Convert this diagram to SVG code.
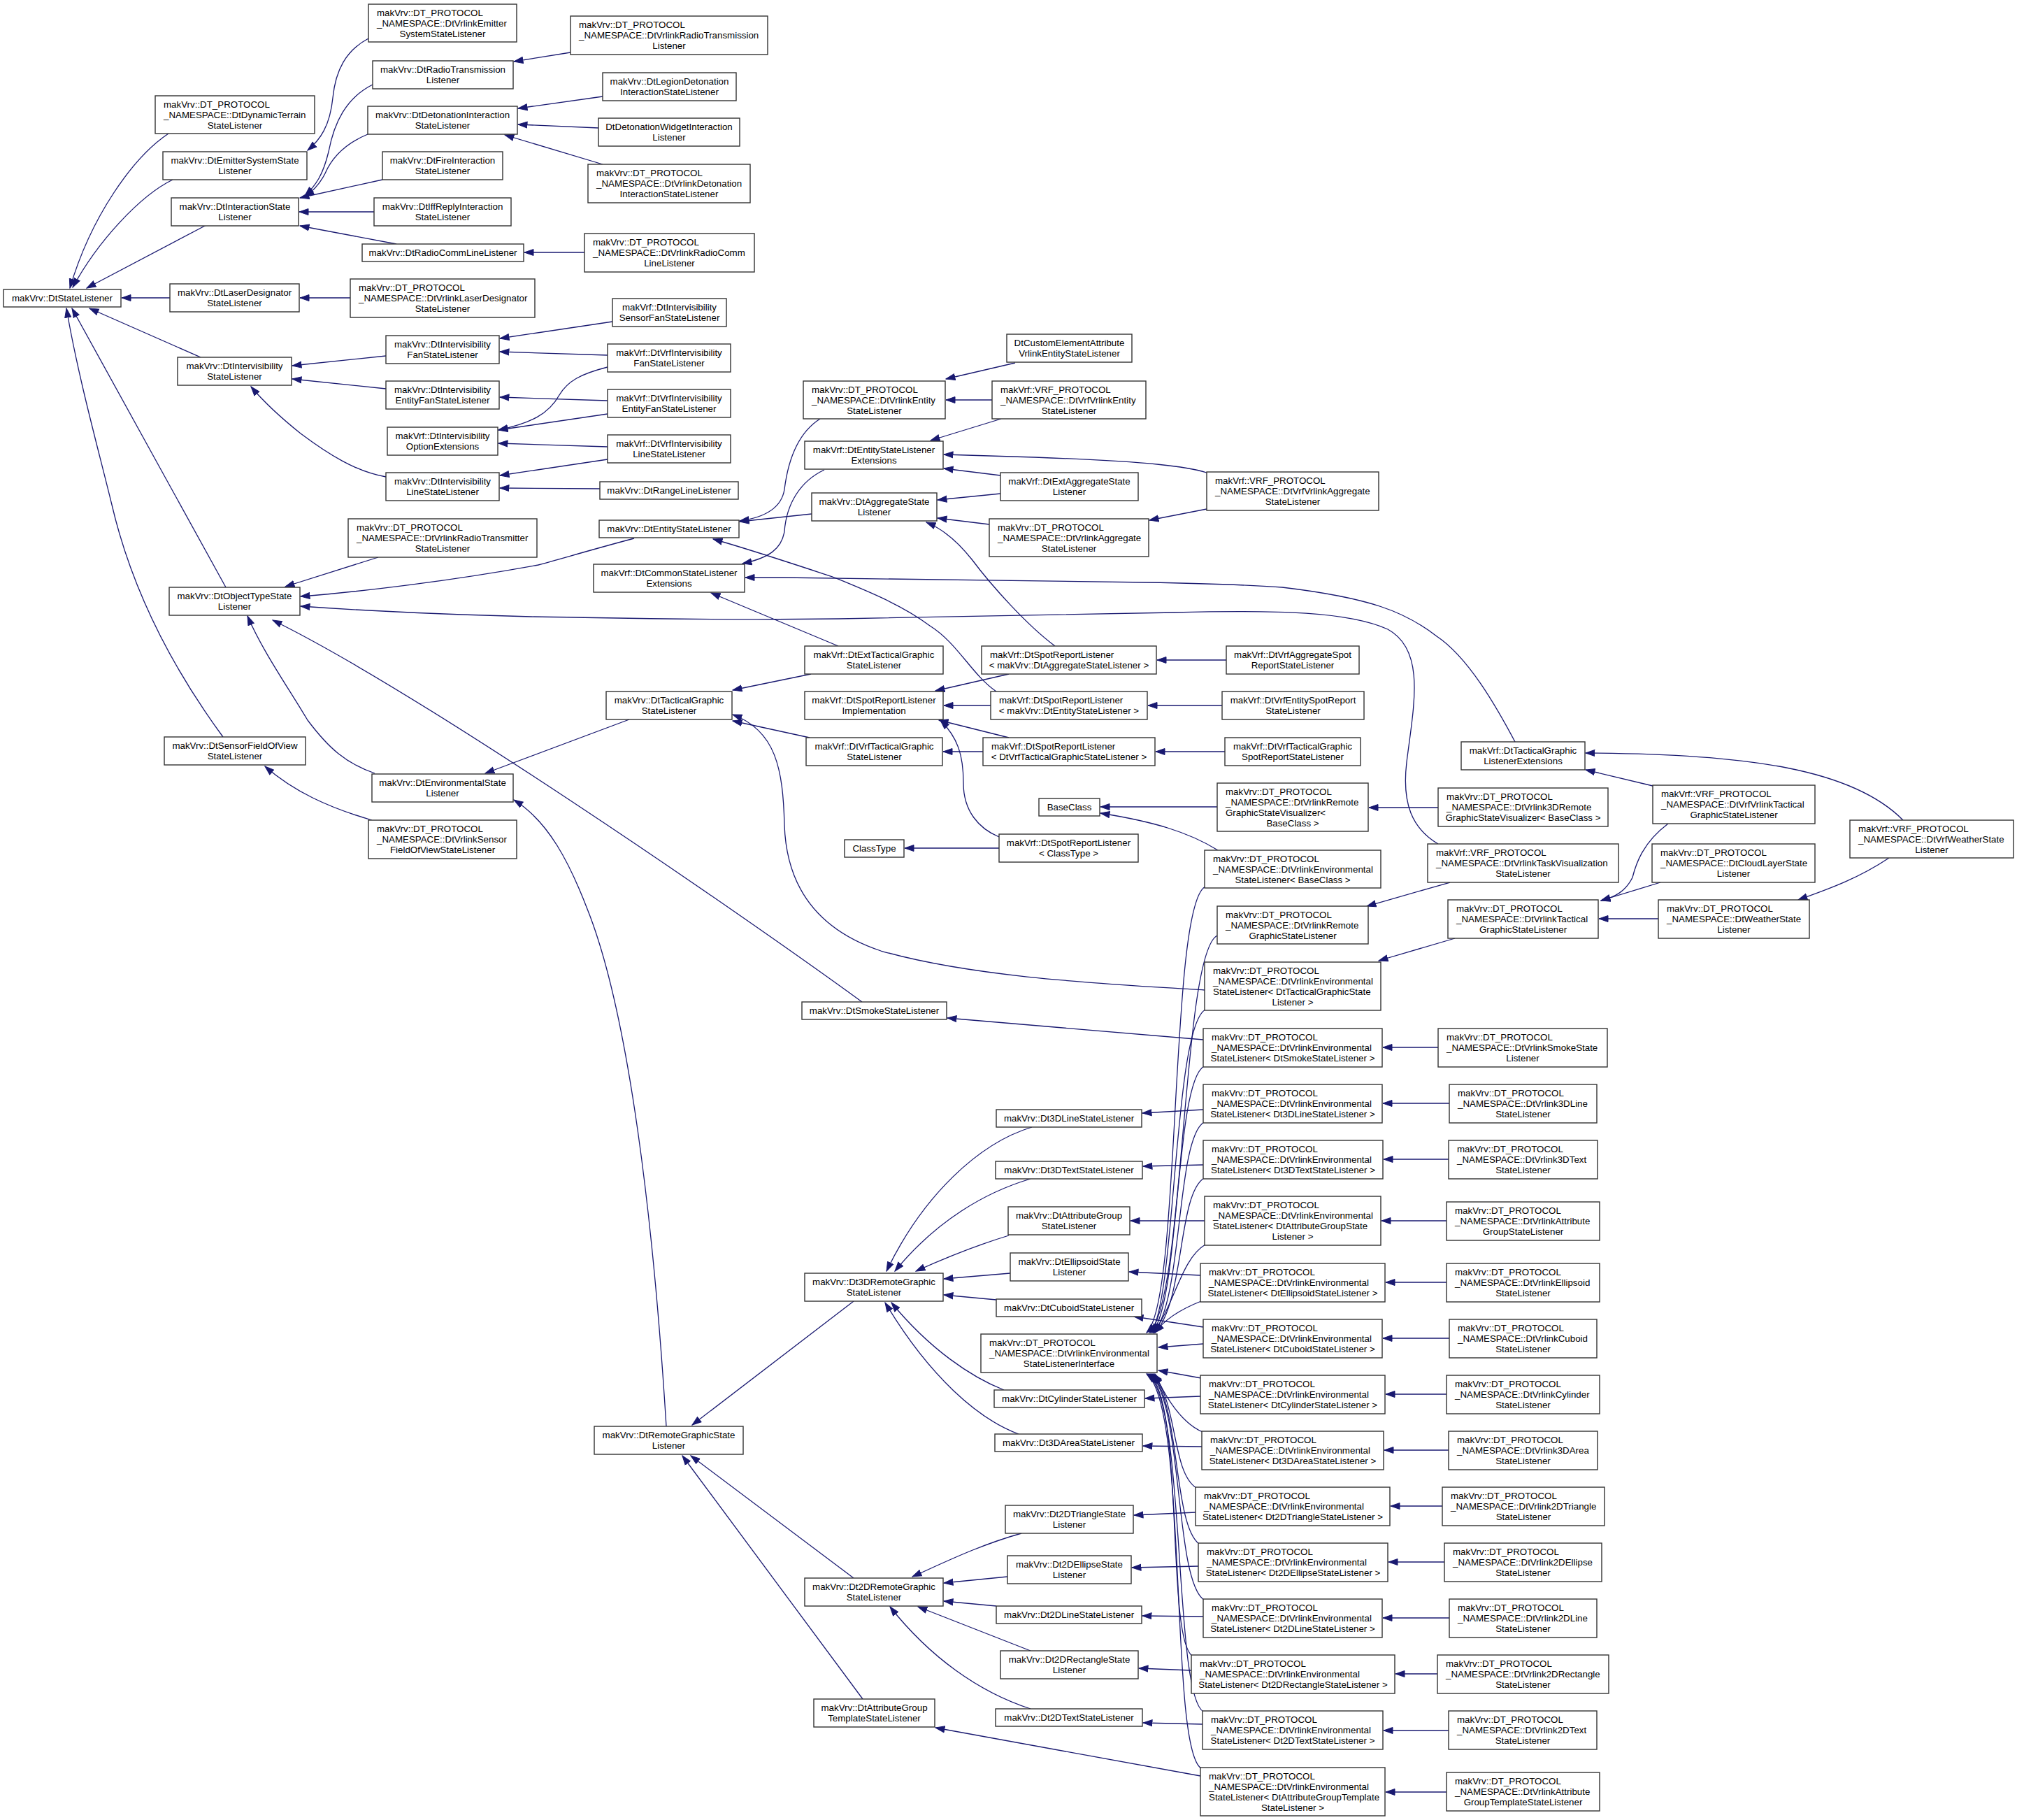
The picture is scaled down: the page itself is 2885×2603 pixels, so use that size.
<svg xmlns="http://www.w3.org/2000/svg" width="2885" height="2603" viewBox="0 0 2885 2603">
<style>
.n rect{fill:#fff;stroke:#333;stroke-width:1.4}
text{font-family:"Liberation Sans",Arial,sans-serif;font-size:13.33px;fill:#000}
.c{text-anchor:middle}
.e path{fill:none;stroke:#191970;stroke-width:1.3;marker-end:url(#a)}
</style>
<defs>
<marker id="a" markerUnits="userSpaceOnUse" markerWidth="15" markerHeight="11" refX="13.5" refY="5" orient="auto" viewBox="0 0 15 10"><path d="M0.5,0.5 L13.5,5 L0.5,9.5z" fill="#191970" stroke="#191970" stroke-width="1"/></marker>
</defs>
<rect width="2885" height="2603" fill="#fff"/>
<g id="edges" class="e">
<path d="M241,191 C190,225 130,310 100,412"/>
<path d="M247,257 C200,280 140,345 104,411"/>
<path d="M295,322 L124,412"/>
<path d="M243,426 L174,426"/>
<path d="M287,511 L128,441"/>
<path d="M323,840 L103,441"/>
<path d="M319,1054 C250,960 190,850 160,722 C140,640 112,540 95,441"/>
<path d="M527,55 C495,72 480,100 476,140 C472,180 458,200 440,215"/>
<path d="M533,121 C495,140 478,175 470,217 C462,250 452,265 436,280"/>
<path d="M526,192 C495,205 475,225 465,248 C458,262 450,272 436,281"/>
<path d="M547,257 L429,283"/>
<path d="M535,303 L428,303"/>
<path d="M567,349 L429,323"/>
<path d="M816,75 L735,88"/>
<path d="M862,138 L741,155"/>
<path d="M856,183 L741,178"/>
<path d="M862,235 L722,193"/>
<path d="M836,361 L750,361"/>
<path d="M501,426 L429,426"/>
<path d="M552,509 L418,523"/>
<path d="M552,556 L418,542"/>
<path d="M552,682 C510,675 470,650 430,620 C405,600 380,578 359,553"/>
<path d="M876,460 L715,484"/>
<path d="M869,508 L715,503"/>
<path d="M869,573 L715,568"/>
<path d="M869,525 C830,535 812,545 800,565 C785,592 760,605 713,615"/>
<path d="M869,592 L713,615"/>
<path d="M869,639 L713,634"/>
<path d="M869,657 L715,680"/>
<path d="M858,699 L715,698"/>
<path d="M541,797 L408,839"/>
<path d="M907,770 C850,785 800,800 770,808 C650,830 520,846 430,853"/>
<path d="M2057,1207 C2020,1185 2005,1150 2012,1090 C2022,1010 2040,930 1985,900 C1930,875 1830,872 1680,876 L1200,885 C1000,888 850,883 760,882 C600,878 500,872 430,867"/>
<path d="M1233,1433 C1050,1300 600,990 390,887"/>
<path d="M536,1106 C495,1092 470,1070 440,1030 C410,980 375,930 354,881"/>
<path d="M532,1173 C470,1155 420,1132 379,1096"/>
<path d="M900,1029 L694,1106"/>
<path d="M953,2040 C935,1750 900,1450 840,1300 C815,1235 785,1175 735,1144"/>
<path d="M1173,599 C1140,620 1127,660 1122,700 C1118,725 1095,740 1058,745"/>
<path d="M1161,735 L1058,746"/>
<path d="M1425,989 C1390,965 1370,920 1330,895 C1290,865 1240,845 1191,825 C1130,805 1070,785 1020,771"/>
<path d="M1179,672 C1145,688 1125,720 1122,760 C1118,785 1100,798 1062,806"/>
<path d="M2167,1061 C2140,1010 2100,940 2055,910 C2010,875 1960,855 1834,840 C1760,835 1700,834 1640,833 L1120,826 L1066,826"/>
<path d="M1199,924 L1017,848"/>
<path d="M1160,964 L1048,987"/>
<path d="M1158,1055 L1048,1031"/>
<path d="M1723,1416 C1600,1408 1400,1400 1260,1360 C1170,1330 1125,1270 1122,1180 C1120,1100 1110,1045 1048,1022"/>
<path d="M1432,599 L1331,630"/>
<path d="M1726,676 C1700,668 1650,660 1480,654 L1350,650"/>
<path d="M1431,680 L1350,670"/>
<path d="M1431,706 L1341,715"/>
<path d="M1415,750 L1341,741"/>
<path d="M1509,924 C1470,895 1420,840 1390,800 C1370,775 1350,757 1325,747"/>
<path d="M1452,519 L1353,542"/>
<path d="M1419,572 L1353,572"/>
<path d="M1726,728 L1644,744"/>
<path d="M1443,964 L1338,988"/>
<path d="M1417,1009 L1350,1009"/>
<path d="M1443,1055 L1343,1030"/>
<path d="M1429,1197 C1400,1185 1378,1160 1378,1120 C1378,1080 1370,1055 1345,1030"/>
<path d="M1406,1075 L1349,1075"/>
<path d="M1754,944 L1655,944"/>
<path d="M1748,1009 L1642,1009"/>
<path d="M1752,1075 L1653,1075"/>
<path d="M1429,1213 L1294,1213"/>
<path d="M1741,1154 L1574,1154"/>
<path d="M1742,1216 C1700,1190 1650,1175 1574,1163"/>
<path d="M2057,1155 L1958,1155"/>
<path d="M2364,1124 L2268,1101"/>
<path d="M2722,1173 C2650,1100 2500,1078 2268,1077"/>
<path d="M2386,1178 C2350,1205 2340,1235 2335,1255 C2325,1275 2310,1283 2290,1288"/>
<path d="M2375,1262 L2290,1288"/>
<path d="M2372,1314 L2287,1314"/>
<path d="M2702,1227 C2660,1255 2620,1270 2572,1287"/>
<path d="M2081,1342 L1972,1374"/>
<path d="M2074,1262 L1955,1296"/>
<path d="M1721,1487 L1355,1456"/>
<path d="M1721,1587 L1634,1592"/>
<path d="M1721,1666 L1635,1668"/>
<path d="M1723,1746 L1617,1746"/>
<path d="M1717,1824 L1615,1819"/>
<path d="M1721,1898 L1622,1883"/>
<path d="M1717,1997 L1638,2000"/>
<path d="M1719,2069 L1635,2068"/>
<path d="M1710,2163 L1622,2167"/>
<path d="M1714,2240 L1619,2242"/>
<path d="M1721,2312 L1634,2311"/>
<path d="M1704,2389 L1629,2386"/>
<path d="M1720,2466 L1635,2464"/>
<path d="M1717,2540 L1338,2471"/>
<path d="M2057,1498 L1978,1498"/>
<path d="M2073,1578 L1978,1578"/>
<path d="M2072,1658 L1979,1658"/>
<path d="M2069,1746 L1976,1746"/>
<path d="M2069,1834 L1982,1834"/>
<path d="M2073,1914 L1978,1914"/>
<path d="M2069,1994 L1982,1994"/>
<path d="M2072,2074 L1980,2074"/>
<path d="M2063,2154 L1989,2154"/>
<path d="M2066,2234 L1986,2234"/>
<path d="M2073,2314 L1978,2314"/>
<path d="M2056,2394 L1996,2394"/>
<path d="M2072,2475 L1979,2475"/>
<path d="M2069,2563 L1982,2563"/>
<path d="M1724,1268 C1672,1295 1690,1860 1640,1906"/>
<path d="M1741,1338 C1690,1365 1695,1860 1644,1906"/>
<path d="M1724,1444 C1678,1470 1682,1860 1646,1906"/>
<path d="M1722,1525 C1680,1550 1688,1860 1648,1906"/>
<path d="M1722,1605 C1682,1630 1692,1860 1650,1906"/>
<path d="M1722,1685 C1684,1710 1695,1860 1652,1906"/>
<path d="M1724,1780 C1690,1800 1680,1865 1650,1906"/>
<path d="M1718,1861 C1690,1872 1665,1888 1652,1906"/>
<path d="M1721,1922 L1657,1927"/>
<path d="M1718,1971 L1657,1960"/>
<path d="M1720,2048 C1690,2035 1668,2000 1652,1965"/>
<path d="M1711,2128 C1676,2105 1685,2010 1650,1965"/>
<path d="M1715,2208 C1678,2180 1688,2010 1648,1965"/>
<path d="M1722,2288 C1680,2260 1692,2010 1646,1965"/>
<path d="M1705,2368 C1668,2340 1694,2010 1644,1965"/>
<path d="M1721,2448 C1678,2420 1697,2010 1642,1965"/>
<path d="M1718,2529 C1672,2500 1700,2010 1640,1965"/>
<path d="M1476,1612 C1400,1635 1320,1710 1268,1818"/>
<path d="M1474,1686 C1410,1705 1340,1745 1280,1818"/>
<path d="M1443,1767 C1400,1780 1350,1800 1310,1818"/>
<path d="M1445,1821 L1350,1829"/>
<path d="M1425,1859 L1350,1852"/>
<path d="M1436,1988 C1390,1970 1330,1930 1275,1863"/>
<path d="M1457,2051 C1400,2030 1330,1970 1266,1863"/>
<path d="M1221,1861 L990,2038"/>
<path d="M1221,2257 L988,2082"/>
<path d="M1234,2430 L976,2082"/>
<path d="M1461,2193 C1400,2210 1350,2235 1305,2255"/>
<path d="M1441,2255 L1350,2264"/>
<path d="M1425,2297 L1350,2290"/>
<path d="M1474,2361 L1313,2298"/>
<path d="M1474,2444 C1400,2420 1330,2370 1273,2298"/>
</g>
<g id="n01" class="n"><rect x="5" y="414" width="168" height="25"/><text x="89" y="431" class="c">makVrv::DtStateListener</text></g>
<g id="n02" class="n"><rect x="222" y="137" width="228" height="54"/><text x="234" y="153.5">makVrv::DT_PROTOCOL</text><text x="234" y="168.5">_NAMESPACE::DtDynamicTerrain</text><text x="336" y="183.5" class="c">StateListener</text></g>
<g id="n03" class="n"><rect x="233" y="217" width="206" height="40"/><text x="336" y="234" class="c">makVrv::DtEmitterSystemState</text><text x="336" y="249" class="c">Listener</text></g>
<g id="n04" class="n"><rect x="245" y="283" width="182" height="40"/><text x="336" y="300" class="c">makVrv::DtInteractionState</text><text x="336" y="315" class="c">Listener</text></g>
<g id="n05" class="n"><rect x="243" y="406" width="185" height="40"/><text x="335.5" y="423" class="c">makVrv::DtLaserDesignator</text><text x="335.5" y="438" class="c">StateListener</text></g>
<g id="n06" class="n"><rect x="254" y="511" width="163" height="40"/><text x="335.5" y="528" class="c">makVrv::DtIntervisibility</text><text x="335.5" y="543" class="c">StateListener</text></g>
<g id="n07" class="n"><rect x="242" y="840" width="187" height="40"/><text x="335.5" y="857" class="c">makVrv::DtObjectTypeState</text><text x="335.5" y="872" class="c">Listener</text></g>
<g id="n08" class="n"><rect x="235" y="1054" width="202" height="40"/><text x="336" y="1071" class="c">makVrv::DtSensorFieldOfView</text><text x="336" y="1086" class="c">StateListener</text></g>
<g id="n09" class="n"><rect x="527" y="6" width="212" height="54"/><text x="539" y="22.5">makVrv::DT_PROTOCOL</text><text x="539" y="37.5">_NAMESPACE::DtVrlinkEmitter</text><text x="633" y="52.5" class="c">SystemStateListener</text></g>
<g id="n10" class="n"><rect x="533" y="87" width="201" height="40"/><text x="633.5" y="104" class="c">makVrv::DtRadioTransmission</text><text x="633.5" y="119" class="c">Listener</text></g>
<g id="n11" class="n"><rect x="526" y="152" width="214" height="40"/><text x="633" y="169" class="c">makVrv::DtDetonationInteraction</text><text x="633" y="184" class="c">StateListener</text></g>
<g id="n12" class="n"><rect x="547" y="217" width="172" height="40"/><text x="633" y="234" class="c">makVrv::DtFireInteraction</text><text x="633" y="249" class="c">StateListener</text></g>
<g id="n13" class="n"><rect x="535" y="283" width="196" height="40"/><text x="633" y="300" class="c">makVrv::DtIffReplyInteraction</text><text x="633" y="315" class="c">StateListener</text></g>
<g id="n14" class="n"><rect x="518" y="349" width="231" height="25"/><text x="633.5" y="366" class="c">makVrv::DtRadioCommLineListener</text></g>
<g id="n15" class="n"><rect x="501" y="399" width="264" height="55"/><text x="513" y="416">makVrv::DT_PROTOCOL</text><text x="513" y="431">_NAMESPACE::DtVrlinkLaserDesignator</text><text x="633" y="446" class="c">StateListener</text></g>
<g id="n16" class="n"><rect x="552" y="480" width="162" height="40"/><text x="633" y="497" class="c">makVrv::DtIntervisibility</text><text x="633" y="512" class="c">FanStateListener</text></g>
<g id="n17" class="n"><rect x="552" y="545" width="162" height="40"/><text x="633" y="562" class="c">makVrv::DtIntervisibility</text><text x="633" y="577" class="c">EntityFanStateListener</text></g>
<g id="n18" class="n"><rect x="554" y="611" width="158" height="40"/><text x="633" y="628" class="c">makVrf::DtIntervisibility</text><text x="633" y="643" class="c">OptionExtensions</text></g>
<g id="n19" class="n"><rect x="552" y="676" width="162" height="40"/><text x="633" y="693" class="c">makVrv::DtIntervisibility</text><text x="633" y="708" class="c">LineStateListener</text></g>
<g id="n20" class="n"><rect x="498" y="742" width="270" height="55"/><text x="510" y="759">makVrv::DT_PROTOCOL</text><text x="510" y="774">_NAMESPACE::DtVrlinkRadioTransmitter</text><text x="633" y="789" class="c">StateListener</text></g>
<g id="n21" class="n"><rect x="532" y="1107" width="202" height="40"/><text x="633" y="1124" class="c">makVrv::DtEnvironmentalState</text><text x="633" y="1139" class="c">Listener</text></g>
<g id="n22" class="n"><rect x="527" y="1173" width="212" height="55"/><text x="539" y="1190">makVrv::DT_PROTOCOL</text><text x="539" y="1205">_NAMESPACE::DtVrlinkSensor</text><text x="633" y="1220" class="c">FieldOfViewStateListener</text></g>
<g id="n23" class="n"><rect x="816" y="23" width="282" height="55"/><text x="828" y="40">makVrv::DT_PROTOCOL</text><text x="828" y="55">_NAMESPACE::DtVrlinkRadioTransmission</text><text x="957" y="70" class="c">Listener</text></g>
<g id="n24" class="n"><rect x="862" y="104" width="191" height="40"/><text x="957.5" y="121" class="c">makVrv::DtLegionDetonation</text><text x="957.5" y="136" class="c">InteractionStateListener</text></g>
<g id="n25" class="n"><rect x="856" y="169" width="202" height="40"/><text x="957" y="186" class="c">DtDetonationWidgetInteraction</text><text x="957" y="201" class="c">Listener</text></g>
<g id="n26" class="n"><rect x="841" y="235" width="232" height="55"/><text x="853" y="252">makVrv::DT_PROTOCOL</text><text x="853" y="267">_NAMESPACE::DtVrlinkDetonation</text><text x="957" y="282" class="c">InteractionStateListener</text></g>
<g id="n27" class="n"><rect x="836" y="334" width="243" height="55"/><text x="848" y="351">makVrv::DT_PROTOCOL</text><text x="848" y="366">_NAMESPACE::DtVrlinkRadioComm</text><text x="957.5" y="381" class="c">LineListener</text></g>
<g id="n28" class="n"><rect x="876" y="427" width="163" height="40"/><text x="957.5" y="444" class="c">makVrf::DtIntervisibility</text><text x="957.5" y="459" class="c">SensorFanStateListener</text></g>
<g id="n29" class="n"><rect x="869" y="492" width="176" height="40"/><text x="957" y="509" class="c">makVrf::DtVrfIntervisibility</text><text x="957" y="524" class="c">FanStateListener</text></g>
<g id="n30" class="n"><rect x="869" y="557" width="176" height="40"/><text x="957" y="574" class="c">makVrf::DtVrfIntervisibility</text><text x="957" y="589" class="c">EntityFanStateListener</text></g>
<g id="n31" class="n"><rect x="869" y="622" width="176" height="40"/><text x="957" y="639" class="c">makVrf::DtVrfIntervisibility</text><text x="957" y="654" class="c">LineStateListener</text></g>
<g id="n32" class="n"><rect x="858" y="689" width="198" height="25"/><text x="957" y="706" class="c">makVrv::DtRangeLineListener</text></g>
<g id="n33" class="n"><rect x="857" y="744" width="200" height="25"/><text x="957" y="761" class="c">makVrv::DtEntityStateListener</text></g>
<g id="n34" class="n"><rect x="849" y="807" width="216" height="40"/><text x="957" y="824" class="c">makVrf::DtCommonStateListener</text><text x="957" y="839" class="c">Extensions</text></g>
<g id="n35" class="n"><rect x="867" y="989" width="180" height="40"/><text x="957" y="1006" class="c">makVrv::DtTacticalGraphic</text><text x="957" y="1021" class="c">StateListener</text></g>
<g id="n36" class="n"><rect x="850" y="2040" width="213" height="40"/><text x="956.5" y="2057" class="c">makVrv::DtRemoteGraphicState</text><text x="956.5" y="2072" class="c">Listener</text></g>
<g id="n37" class="n"><rect x="1164" y="2430" width="173" height="40"/><text x="1250.5" y="2447" class="c">makVrv::DtAttributeGroup</text><text x="1250.5" y="2462" class="c">TemplateStateListener</text></g>
<g id="n38" class="n"><rect x="1149" y="545" width="203" height="54"/><text x="1161" y="561.5">makVrv::DT_PROTOCOL</text><text x="1161" y="576.5">_NAMESPACE::DtVrlinkEntity</text><text x="1250.5" y="591.5" class="c">StateListener</text></g>
<g id="n39" class="n"><rect x="1151" y="631" width="198" height="40"/><text x="1250" y="648" class="c">makVrf::DtEntityStateListener</text><text x="1250" y="663" class="c">Extensions</text></g>
<g id="n40" class="n"><rect x="1161" y="705" width="179" height="40"/><text x="1250.5" y="722" class="c">makVrv::DtAggregateState</text><text x="1250.5" y="737" class="c">Listener</text></g>
<g id="n41" class="n"><rect x="1151" y="924" width="198" height="40"/><text x="1250" y="941" class="c">makVrf::DtExtTacticalGraphic</text><text x="1250" y="956" class="c">StateListener</text></g>
<g id="n42" class="n"><rect x="1151" y="989" width="198" height="40"/><text x="1250" y="1006" class="c">makVrf::DtSpotReportListener</text><text x="1250" y="1021" class="c">Implementation</text></g>
<g id="n43" class="n"><rect x="1153" y="1055" width="195" height="40"/><text x="1250.5" y="1072" class="c">makVrf::DtVrfTacticalGraphic</text><text x="1250.5" y="1087" class="c">StateListener</text></g>
<g id="n44" class="n"><rect x="1147" y="1433" width="207" height="25"/><text x="1250.5" y="1450" class="c">makVrv::DtSmokeStateListener</text></g>
<g id="n45" class="n"><rect x="1151" y="1821" width="198" height="40"/><text x="1250" y="1838" class="c">makVrv::Dt3DRemoteGraphic</text><text x="1250" y="1853" class="c">StateListener</text></g>
<g id="n46" class="n"><rect x="1151" y="2257" width="198" height="40"/><text x="1250" y="2274" class="c">makVrv::Dt2DRemoteGraphic</text><text x="1250" y="2289" class="c">StateListener</text></g>
<g id="n47" class="n"><rect x="1440" y="478" width="179" height="40"/><text x="1529.5" y="495" class="c">DtCustomElementAttribute</text><text x="1529.5" y="510" class="c">VrlinkEntityStateListener</text></g>
<g id="n48" class="n"><rect x="1419" y="545" width="220" height="54"/><text x="1431" y="561.5">makVrf::VRF_PROTOCOL</text><text x="1431" y="576.5">_NAMESPACE::DtVrfVrlinkEntity</text><text x="1529" y="591.5" class="c">StateListener</text></g>
<g id="n49" class="n"><rect x="1431" y="676" width="197" height="40"/><text x="1529.5" y="693" class="c">makVrf::DtExtAggregateState</text><text x="1529.5" y="708" class="c">Listener</text></g>
<g id="n50" class="n"><rect x="1415" y="742" width="228" height="54"/><text x="1427" y="758.5">makVrv::DT_PROTOCOL</text><text x="1427" y="773.5">_NAMESPACE::DtVrlinkAggregate</text><text x="1529" y="788.5" class="c">StateListener</text></g>
<g id="n51" class="n"><rect x="1404" y="924" width="250" height="40"/><text x="1416" y="941">makVrf::DtSpotReportListener</text><text x="1529" y="956" class="c">&lt; makVrv::DtAggregateStateListener &gt;</text></g>
<g id="n52" class="n"><rect x="1417" y="989" width="224" height="40"/><text x="1429" y="1006">makVrf::DtSpotReportListener</text><text x="1529" y="1021" class="c">&lt; makVrv::DtEntityStateListener &gt;</text></g>
<g id="n53" class="n"><rect x="1406" y="1055" width="246" height="40"/><text x="1418" y="1072">makVrf::DtSpotReportListener</text><text x="1529" y="1087" class="c">&lt; DtVrfTacticalGraphicStateListener &gt;</text></g>
<g id="n54" class="n"><rect x="1486" y="1142" width="87" height="25"/><text x="1529.5" y="1159" class="c">BaseClass</text></g>
<g id="n55" class="n"><rect x="1208" y="1201" width="85" height="25"/><text x="1250.5" y="1218" class="c">ClassType</text></g>
<g id="n56" class="n"><rect x="1429" y="1193" width="199" height="40"/><text x="1528.5" y="1210" class="c">makVrf::DtSpotReportListener</text><text x="1528.5" y="1225" class="c">&lt; ClassType &gt;</text></g>
<g id="n57" class="n"><rect x="1425" y="1587" width="208" height="25"/><text x="1529" y="1604" class="c">makVrv::Dt3DLineStateListener</text></g>
<g id="n58" class="n"><rect x="1424" y="1661" width="210" height="25"/><text x="1529" y="1678" class="c">makVrv::Dt3DTextStateListener</text></g>
<g id="n59" class="n"><rect x="1442" y="1726" width="174" height="40"/><text x="1529" y="1743" class="c">makVrv::DtAttributeGroup</text><text x="1529" y="1758" class="c">StateListener</text></g>
<g id="n60" class="n"><rect x="1445" y="1792" width="169" height="40"/><text x="1529.5" y="1809" class="c">makVrv::DtEllipsoidState</text><text x="1529.5" y="1824" class="c">Listener</text></g>
<g id="n61" class="n"><rect x="1425" y="1858" width="208" height="25"/><text x="1529" y="1875" class="c">makVrv::DtCuboidStateListener</text></g>
<g id="n62" class="n"><rect x="1403" y="1908" width="252" height="55"/><text x="1415" y="1925">makVrv::DT_PROTOCOL</text><text x="1415" y="1940">_NAMESPACE::DtVrlinkEnvironmental</text><text x="1529" y="1955" class="c">StateListenerInterface</text></g>
<g id="n63" class="n"><rect x="1422" y="1988" width="215" height="25"/><text x="1529.5" y="2005" class="c">makVrv::DtCylinderStateListener</text></g>
<g id="n64" class="n"><rect x="1423" y="2051" width="211" height="25"/><text x="1528.5" y="2068" class="c">makVrv::Dt3DAreaStateListener</text></g>
<g id="n65" class="n"><rect x="1438" y="2153" width="183" height="40"/><text x="1529.5" y="2170" class="c">makVrv::Dt2DTriangleState</text><text x="1529.5" y="2185" class="c">Listener</text></g>
<g id="n66" class="n"><rect x="1441" y="2225" width="177" height="40"/><text x="1529.5" y="2242" class="c">makVrv::Dt2DEllipseState</text><text x="1529.5" y="2257" class="c">Listener</text></g>
<g id="n67" class="n"><rect x="1425" y="2297" width="208" height="25"/><text x="1529" y="2314" class="c">makVrv::Dt2DLineStateListener</text></g>
<g id="n68" class="n"><rect x="1431" y="2361" width="197" height="40"/><text x="1529.5" y="2378" class="c">makVrv::Dt2DRectangleState</text><text x="1529.5" y="2393" class="c">Listener</text></g>
<g id="n69" class="n"><rect x="1424" y="2444" width="210" height="25"/><text x="1529" y="2461" class="c">makVrv::Dt2DTextStateListener</text></g>
<g id="n70" class="n"><rect x="1726" y="675" width="246" height="55"/><text x="1738" y="692">makVrf::VRF_PROTOCOL</text><text x="1738" y="707">_NAMESPACE::DtVrfVrlinkAggregate</text><text x="1849" y="722" class="c">StateListener</text></g>
<g id="n71" class="n"><rect x="1754" y="924" width="190" height="40"/><text x="1849" y="941" class="c">makVrf::DtVrfAggregateSpot</text><text x="1849" y="956" class="c">ReportStateListener</text></g>
<g id="n72" class="n"><rect x="1748" y="989" width="203" height="40"/><text x="1849.5" y="1006" class="c">makVrf::DtVrfEntitySpotReport</text><text x="1849.5" y="1021" class="c">StateListener</text></g>
<g id="n73" class="n"><rect x="1752" y="1055" width="194" height="40"/><text x="1849" y="1072" class="c">makVrf::DtVrfTacticalGraphic</text><text x="1849" y="1087" class="c">SpotReportStateListener</text></g>
<g id="n74" class="n"><rect x="1741" y="1120" width="216" height="69"/><text x="1753" y="1136.5">makVrv::DT_PROTOCOL</text><text x="1753" y="1151.5">_NAMESPACE::DtVrlinkRemote</text><text x="1753" y="1166.5">GraphicStateVisualizer&lt;</text><text x="1849" y="1181.5" class="c">BaseClass &gt;</text></g>
<g id="n75" class="n"><rect x="1723" y="1216" width="252" height="54"/><text x="1735" y="1232.5">makVrv::DT_PROTOCOL</text><text x="1735" y="1247.5">_NAMESPACE::DtVrlinkEnvironmental</text><text x="1849" y="1262.5" class="c">StateListener&lt; BaseClass &gt;</text></g>
<g id="n76" class="n"><rect x="1741" y="1296" width="216" height="54"/><text x="1753" y="1312.5">makVrv::DT_PROTOCOL</text><text x="1753" y="1327.5">_NAMESPACE::DtVrlinkRemote</text><text x="1849" y="1342.5" class="c">GraphicStateListener</text></g>
<g id="n77" class="n"><rect x="1723" y="1376" width="252" height="69"/><text x="1735" y="1392.5">makVrv::DT_PROTOCOL</text><text x="1735" y="1407.5">_NAMESPACE::DtVrlinkEnvironmental</text><text x="1735" y="1422.5">StateListener&lt; DtTacticalGraphicState</text><text x="1849" y="1437.5" class="c">Listener &gt;</text></g>
<g id="n78" class="n"><rect x="1721" y="1471" width="256" height="55"/><text x="1733" y="1488">makVrv::DT_PROTOCOL</text><text x="1733" y="1503">_NAMESPACE::DtVrlinkEnvironmental</text><text x="1849" y="1518" class="c">StateListener&lt; DtSmokeStateListener &gt;</text></g>
<g id="n79" class="n"><rect x="1721" y="1551" width="256" height="55"/><text x="1733" y="1568">makVrv::DT_PROTOCOL</text><text x="1733" y="1583">_NAMESPACE::DtVrlinkEnvironmental</text><text x="1849" y="1598" class="c">StateListener&lt; Dt3DLineStateListener &gt;</text></g>
<g id="n80" class="n"><rect x="1721" y="1631" width="257" height="55"/><text x="1733" y="1648">makVrv::DT_PROTOCOL</text><text x="1733" y="1663">_NAMESPACE::DtVrlinkEnvironmental</text><text x="1849.5" y="1678" class="c">StateListener&lt; Dt3DTextStateListener &gt;</text></g>
<g id="n81" class="n"><rect x="1723" y="1711" width="252" height="70"/><text x="1735" y="1728">makVrv::DT_PROTOCOL</text><text x="1735" y="1743">_NAMESPACE::DtVrlinkEnvironmental</text><text x="1735" y="1758">StateListener&lt; DtAttributeGroupState</text><text x="1849" y="1773" class="c">Listener &gt;</text></g>
<g id="n82" class="n"><rect x="1717" y="1807" width="264" height="55"/><text x="1729" y="1824">makVrv::DT_PROTOCOL</text><text x="1729" y="1839">_NAMESPACE::DtVrlinkEnvironmental</text><text x="1849" y="1854" class="c">StateListener&lt; DtEllipsoidStateListener &gt;</text></g>
<g id="n83" class="n"><rect x="1721" y="1887" width="256" height="55"/><text x="1733" y="1904">makVrv::DT_PROTOCOL</text><text x="1733" y="1919">_NAMESPACE::DtVrlinkEnvironmental</text><text x="1849" y="1934" class="c">StateListener&lt; DtCuboidStateListener &gt;</text></g>
<g id="n84" class="n"><rect x="1717" y="1967" width="264" height="55"/><text x="1729" y="1984">makVrv::DT_PROTOCOL</text><text x="1729" y="1999">_NAMESPACE::DtVrlinkEnvironmental</text><text x="1849" y="2014" class="c">StateListener&lt; DtCylinderStateListener &gt;</text></g>
<g id="n85" class="n"><rect x="1719" y="2047" width="260" height="55"/><text x="1731" y="2064">makVrv::DT_PROTOCOL</text><text x="1731" y="2079">_NAMESPACE::DtVrlinkEnvironmental</text><text x="1849" y="2094" class="c">StateListener&lt; Dt3DAreaStateListener &gt;</text></g>
<g id="n86" class="n"><rect x="1710" y="2127" width="278" height="55"/><text x="1722" y="2144">makVrv::DT_PROTOCOL</text><text x="1722" y="2159">_NAMESPACE::DtVrlinkEnvironmental</text><text x="1849" y="2174" class="c">StateListener&lt; Dt2DTriangleStateListener &gt;</text></g>
<g id="n87" class="n"><rect x="1714" y="2207" width="271" height="55"/><text x="1726" y="2224">makVrv::DT_PROTOCOL</text><text x="1726" y="2239">_NAMESPACE::DtVrlinkEnvironmental</text><text x="1849.5" y="2254" class="c">StateListener&lt; Dt2DEllipseStateListener &gt;</text></g>
<g id="n88" class="n"><rect x="1721" y="2287" width="256" height="55"/><text x="1733" y="2304">makVrv::DT_PROTOCOL</text><text x="1733" y="2319">_NAMESPACE::DtVrlinkEnvironmental</text><text x="1849" y="2334" class="c">StateListener&lt; Dt2DLineStateListener &gt;</text></g>
<g id="n89" class="n"><rect x="1704" y="2367" width="291" height="55"/><text x="1716" y="2384">makVrv::DT_PROTOCOL</text><text x="1716" y="2399">_NAMESPACE::DtVrlinkEnvironmental</text><text x="1849.5" y="2414" class="c">StateListener&lt; Dt2DRectangleStateListener &gt;</text></g>
<g id="n90" class="n"><rect x="1720" y="2447" width="258" height="55"/><text x="1732" y="2464">makVrv::DT_PROTOCOL</text><text x="1732" y="2479">_NAMESPACE::DtVrlinkEnvironmental</text><text x="1849" y="2494" class="c">StateListener&lt; Dt2DTextStateListener &gt;</text></g>
<g id="n91" class="n"><rect x="1717" y="2528" width="264" height="69"/><text x="1729" y="2544.5">makVrv::DT_PROTOCOL</text><text x="1729" y="2559.5">_NAMESPACE::DtVrlinkEnvironmental</text><text x="1729" y="2574.5">StateListener&lt; DtAttributeGroupTemplate</text><text x="1849" y="2589.5" class="c">StateListener &gt;</text></g>
<g id="n92" class="n"><rect x="2090" y="1061" width="177" height="40"/><text x="2178.5" y="1078" class="c">makVrf::DtTacticalGraphic</text><text x="2178.5" y="1093" class="c">ListenerExtensions</text></g>
<g id="n93" class="n"><rect x="2057" y="1127" width="243" height="55"/><text x="2069" y="1144">makVrv::DT_PROTOCOL</text><text x="2069" y="1159">_NAMESPACE::DtVrlink3DRemote</text><text x="2178.5" y="1174" class="c">GraphicStateVisualizer&lt; BaseClass &gt;</text></g>
<g id="n94" class="n"><rect x="2042" y="1207" width="273" height="55"/><text x="2054" y="1224">makVrf::VRF_PROTOCOL</text><text x="2054" y="1239">_NAMESPACE::DtVrlinkTaskVisualization</text><text x="2178.5" y="1254" class="c">StateListener</text></g>
<g id="n95" class="n"><rect x="2071" y="1287" width="215" height="55"/><text x="2083" y="1304">makVrv::DT_PROTOCOL</text><text x="2083" y="1319">_NAMESPACE::DtVrlinkTactical</text><text x="2178.5" y="1334" class="c">GraphicStateListener</text></g>
<g id="n96" class="n"><rect x="2364" y="1123" width="232" height="55"/><text x="2376" y="1140">makVrf::VRF_PROTOCOL</text><text x="2376" y="1155">_NAMESPACE::DtVrfVrlinkTactical</text><text x="2480" y="1170" class="c">GraphicStateListener</text></g>
<g id="n97" class="n"><rect x="2363" y="1207" width="233" height="55"/><text x="2375" y="1224">makVrv::DT_PROTOCOL</text><text x="2375" y="1239">_NAMESPACE::DtCloudLayerState</text><text x="2479.5" y="1254" class="c">Listener</text></g>
<g id="n98" class="n"><rect x="2372" y="1287" width="216" height="55"/><text x="2384" y="1304">makVrv::DT_PROTOCOL</text><text x="2384" y="1319">_NAMESPACE::DtWeatherState</text><text x="2480" y="1334" class="c">Listener</text></g>
<g id="n99" class="n"><rect x="2646" y="1173" width="234" height="54"/><text x="2658" y="1189.5">makVrf::VRF_PROTOCOL</text><text x="2658" y="1204.5">_NAMESPACE::DtVrfWeatherState</text><text x="2763" y="1219.5" class="c">Listener</text></g>
<g id="n100" class="n"><rect x="2057" y="1471" width="242" height="55"/><text x="2069" y="1488">makVrv::DT_PROTOCOL</text><text x="2069" y="1503">_NAMESPACE::DtVrlinkSmokeState</text><text x="2178" y="1518" class="c">Listener</text></g>
<g id="n101" class="n"><rect x="2073" y="1551" width="211" height="55"/><text x="2085" y="1568">makVrv::DT_PROTOCOL</text><text x="2085" y="1583">_NAMESPACE::DtVrlink3DLine</text><text x="2178.5" y="1598" class="c">StateListener</text></g>
<g id="n102" class="n"><rect x="2072" y="1631" width="213" height="55"/><text x="2084" y="1648">makVrv::DT_PROTOCOL</text><text x="2084" y="1663">_NAMESPACE::DtVrlink3DText</text><text x="2178.5" y="1678" class="c">StateListener</text></g>
<g id="n103" class="n"><rect x="2069" y="1719" width="219" height="55"/><text x="2081" y="1736">makVrv::DT_PROTOCOL</text><text x="2081" y="1751">_NAMESPACE::DtVrlinkAttribute</text><text x="2178.5" y="1766" class="c">GroupStateListener</text></g>
<g id="n104" class="n"><rect x="2069" y="1807" width="219" height="55"/><text x="2081" y="1824">makVrv::DT_PROTOCOL</text><text x="2081" y="1839">_NAMESPACE::DtVrlinkEllipsoid</text><text x="2178.5" y="1854" class="c">StateListener</text></g>
<g id="n105" class="n"><rect x="2073" y="1887" width="211" height="55"/><text x="2085" y="1904">makVrv::DT_PROTOCOL</text><text x="2085" y="1919">_NAMESPACE::DtVrlinkCuboid</text><text x="2178.5" y="1934" class="c">StateListener</text></g>
<g id="n106" class="n"><rect x="2069" y="1967" width="219" height="55"/><text x="2081" y="1984">makVrv::DT_PROTOCOL</text><text x="2081" y="1999">_NAMESPACE::DtVrlinkCylinder</text><text x="2178.5" y="2014" class="c">StateListener</text></g>
<g id="n107" class="n"><rect x="2072" y="2047" width="213" height="55"/><text x="2084" y="2064">makVrv::DT_PROTOCOL</text><text x="2084" y="2079">_NAMESPACE::DtVrlink3DArea</text><text x="2178.5" y="2094" class="c">StateListener</text></g>
<g id="n108" class="n"><rect x="2063" y="2127" width="232" height="55"/><text x="2075" y="2144">makVrv::DT_PROTOCOL</text><text x="2075" y="2159">_NAMESPACE::DtVrlink2DTriangle</text><text x="2179" y="2174" class="c">StateListener</text></g>
<g id="n109" class="n"><rect x="2066" y="2207" width="225" height="55"/><text x="2078" y="2224">makVrv::DT_PROTOCOL</text><text x="2078" y="2239">_NAMESPACE::DtVrlink2DEllipse</text><text x="2178.5" y="2254" class="c">StateListener</text></g>
<g id="n110" class="n"><rect x="2073" y="2287" width="211" height="55"/><text x="2085" y="2304">makVrv::DT_PROTOCOL</text><text x="2085" y="2319">_NAMESPACE::DtVrlink2DLine</text><text x="2178.5" y="2334" class="c">StateListener</text></g>
<g id="n111" class="n"><rect x="2056" y="2367" width="245" height="55"/><text x="2068" y="2384">makVrv::DT_PROTOCOL</text><text x="2068" y="2399">_NAMESPACE::DtVrlink2DRectangle</text><text x="2178.5" y="2414" class="c">StateListener</text></g>
<g id="n112" class="n"><rect x="2072" y="2447" width="212" height="55"/><text x="2084" y="2464">makVrv::DT_PROTOCOL</text><text x="2084" y="2479">_NAMESPACE::DtVrlink2DText</text><text x="2178" y="2494" class="c">StateListener</text></g>
<g id="n113" class="n"><rect x="2069" y="2535" width="219" height="55"/><text x="2081" y="2552">makVrv::DT_PROTOCOL</text><text x="2081" y="2567">_NAMESPACE::DtVrlinkAttribute</text><text x="2178.5" y="2582" class="c">GroupTemplateStateListener</text></g>
</svg>
